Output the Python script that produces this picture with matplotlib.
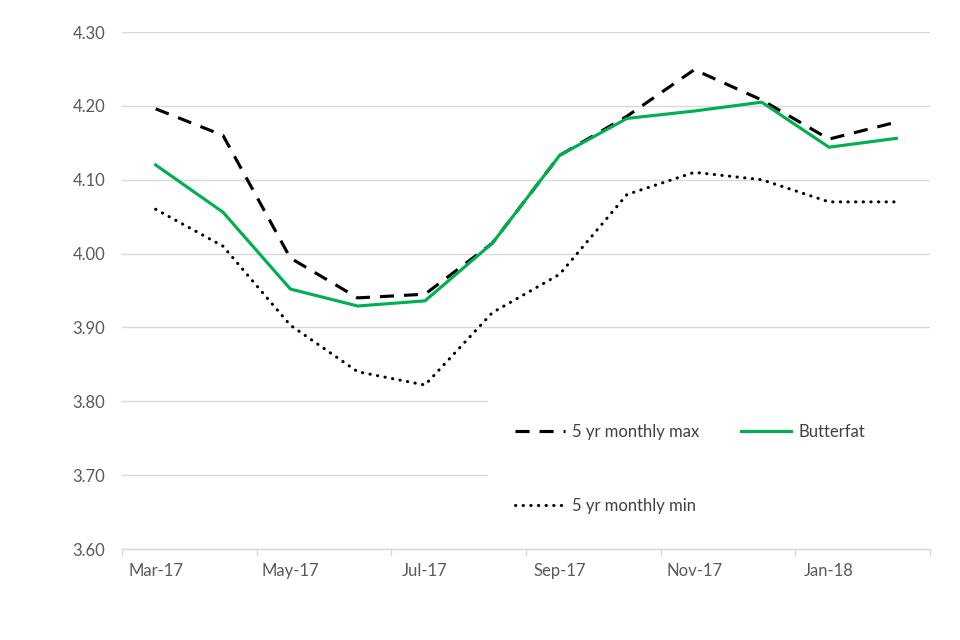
import matplotlib
matplotlib.use("Agg")
import matplotlib.pyplot as plt
from matplotlib.patches import Rectangle

plt.rcParams['font.family'] = ['Lato', 'DejaVu Sans']

# monthly butterfat % values
months = ["Mar-17", "Apr-17", "May-17", "Jun-17", "Jul-17", "Aug-17",
          "Sep-17", "Oct-17", "Nov-17", "Dec-17", "Jan-18", "Feb-18"]
max5 = [4.196, 4.160, 3.994, 3.940, 3.945, 4.014, 4.133, 4.186, 4.249, 4.208, 4.155, 4.178]
butterfat = [4.120, 4.056, 3.952, 3.929, 3.936, 4.014, 4.133, 4.183, 4.193, 4.205, 4.144, 4.156]
min5 = [4.060, 4.010, 3.903, 3.840, 3.822, 3.920, 3.972, 4.080, 4.110, 4.100, 4.070, 4.070]
yticks = [3.60, 3.70, 3.80, 3.90, 4.00, 4.10, 4.20, 4.30]

grid_c = '#d9d9d9'
text_c = '#595959'

fig = plt.figure(figsize=(9.6, 6.4), dpi=100)
ax = fig.add_axes([122/960, 1-549/640, (930-122)/960, (549-32)/640])

x = list(range(len(months)))
l_max, = ax.plot(x, max5, color='black', lw=2.25, linestyle=(0, (4.5, 3.2)),
                 label='5 yr monthly max', zorder=3)
l_bf, = ax.plot(x, butterfat, color='#00B050', lw=2.25, label='Butterfat', zorder=4)
l_min, = ax.plot(x, min5, color='black', lw=2.2, linestyle=(0, (0.1, 2.4)),
                 dash_capstyle='round', label='5 yr monthly min', zorder=3)

ax.set_xlim(-0.5, len(months)-0.5)
ax.set_ylim(3.60, 4.30)
ax.set_yticks(yticks)
ax.set_yticklabels(['%.2f' % v for v in yticks])
ax.yaxis.grid(True, color=grid_c, lw=1.0)
ax.set_axisbelow(True)

# category boundaries as tick marks, labels every other month
ax.set_xticks([i - 0.5 for i in range(0, len(months)+1, 2)])
ax.set_xticklabels([])
ax.set_xticks(x[::2], minor=True)
ax.set_xticklabels(months[::2], minor=True)
ax.tick_params(axis='x', which='major', length=5, color=grid_c, width=1)
ax.tick_params(axis='x', which='minor', length=0, pad=10, labelsize=12, labelcolor=text_c)
ax.tick_params(axis='y', length=0, pad=12, labelsize=12, labelcolor=text_c)

for s in ['top', 'right', 'left']:
    ax.spines[s].set_visible(False)
ax.spines['bottom'].set_color(grid_c)
ax.spines['bottom'].set_linewidth(1)

# white block behind the legend
ax.add_patch(Rectangle((488/960, 1-545/640), 445/960, 145/640, transform=fig.transFigure,
                       facecolor='white', edgecolor='none', zorder=2, clip_on=False))

# column-first fill: max, min in column 1; Butterfat in column 2
leg = ax.legend([l_max, l_min, l_bf], ['5 yr monthly max', '5 yr monthly min', 'Butterfat'],
                loc='upper left', bbox_to_anchor=(515/960, 1-424/640),
                bbox_transform=fig.transFigure, ncol=2, frameon=False,
                borderpad=0, borderaxespad=0, handlelength=3.0, handletextpad=0.45,
                columnspacing=2.5, labelspacing=3.45, fontsize=12)
for t in leg.get_texts():
    t.set_color('#404040')
leg.set_zorder(5)

fig.savefig('out.png', dpi=100)
